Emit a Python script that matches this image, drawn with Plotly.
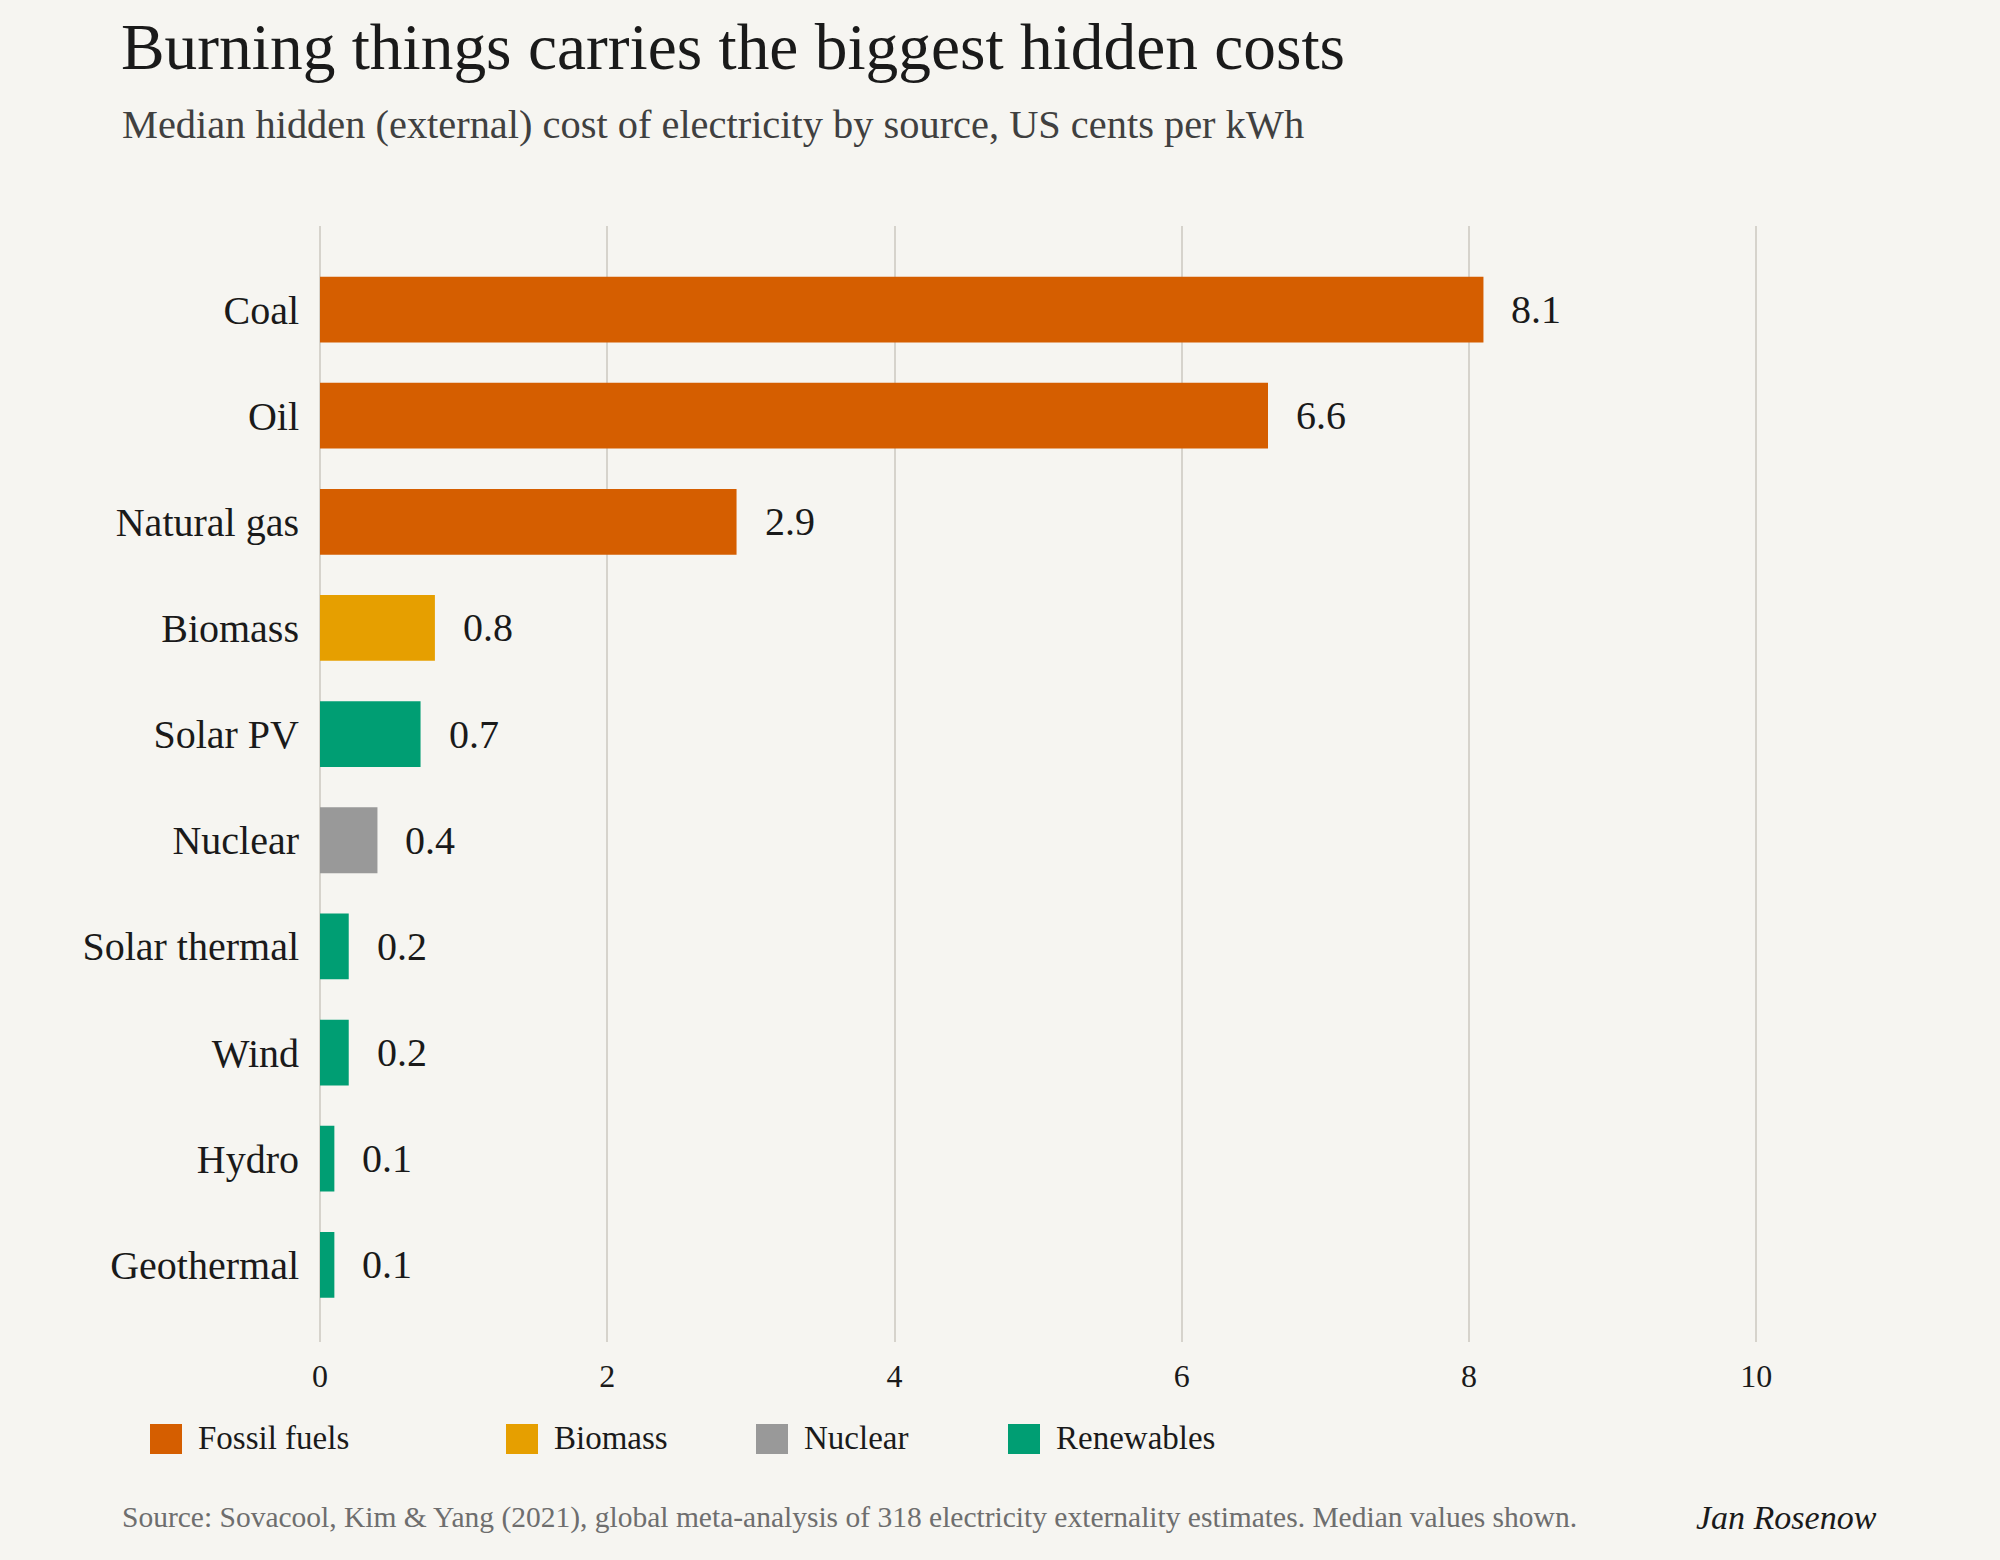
import plotly.graph_objects as go

# ---- data ----
sources = ["Coal", "Oil", "Natural gas", "Biomass", "Solar PV", "Nuclear",
           "Solar thermal", "Wind", "Hydro", "Geothermal"]
cost_cents = [8.1, 6.6, 2.9, 0.8, 0.7, 0.4, 0.2, 0.2, 0.1, 0.1]
source_group = ["Fossil fuels", "Fossil fuels", "Fossil fuels", "Biomass", "Renewables",
                "Nuclear", "Renewables", "Renewables", "Renewables", "Renewables"]
groups = ["Fossil fuels", "Biomass", "Nuclear", "Renewables"]
x_ticks = [0, 2, 4, 6, 8, 10]

# ---- style ----
group_colors = {"Fossil fuels": "#D55E00", "Biomass": "#E69F00",
                "Nuclear": "#999999", "Renewables": "#009E73"}
bg = "#F6F5F1"
grid = "#D6D3CC"
font = "Liberation Serif"
W, H = 2000, 1560
L, R, T, B = 320, 100, 226, 218
pw, ph = W - L - R, H - T - B


def px(x):
    return (x - L) / pw


def py(y):
    return (H - B - y) / ph


fig = go.Figure()
fig.add_trace(go.Bar(
    x=cost_cents, y=sources, orientation="h",
    marker=dict(color=[group_colors[g] for g in source_group], line=dict(width=0)),
    width=0.62, showlegend=False, hoverinfo="x+y",
))

# value labels
for s, v in zip(sources, cost_cents):
    fig.add_annotation(x=v, y=s, text=f"{v:.1f}", showarrow=False, xanchor="left",
                       xshift=26, font=dict(family=font, size=40, color="#1a1a1a"))

# legend (drawn by hand to get the large square keys)
legend_x = [150, 506, 756, 1008]
for g, lx in zip(groups, legend_x):
    fig.add_shape(type="rect", xref="paper", yref="paper",
                  x0=px(lx), x1=px(lx + 32), y0=py(1454), y1=py(1424),
                  fillcolor=group_colors[g], line=dict(width=0))
    fig.add_annotation(xref="paper", yref="paper", x=px(lx + 46), y=py(1438),
                       text=g, showarrow=False, xanchor="left", yanchor="middle",
                       font=dict(family=font, size=33, color="#1a1a1a"))

# title, subtitle, caption
fig.add_annotation(xref="paper", yref="paper", x=px(119), y=py(47), xanchor="left",
                   yanchor="middle", showarrow=False,
                   text="Burning things carries the biggest hidden costs",
                   font=dict(family=font, size=65.4, color="#1a1a1a"))
fig.add_annotation(xref="paper", yref="paper", x=px(120), y=py(124), xanchor="left",
                   yanchor="middle", showarrow=False,
                   text="Median hidden (external) cost of electricity by source, US cents per kWh",
                   font=dict(family=font, size=40.4, color="#404040"))
fig.add_annotation(xref="paper", yref="paper", x=px(120), y=py(1517), xanchor="left",
                   yanchor="middle", showarrow=False,
                   text="Source: Sovacool, Kim &amp; Yang (2021), global meta-analysis of 318 "
                        "electricity externality estimates. Median values shown.",
                   font=dict(family=font, size=29.5, color="#6e6e6e"))
fig.add_annotation(xref="paper", yref="paper", x=px(1879), y=py(1517), xanchor="right",
                   yanchor="middle", showarrow=False, text="<i>Jan Rosenow</i>",
                   font=dict(family=font, size=34, color="#1a1a1a"))

fig.update_layout(
    width=W, height=H,
    margin=dict(l=L, r=R, t=T, b=B, autoexpand=False),
    paper_bgcolor=bg, plot_bgcolor=bg,
    font=dict(family=font, color="#1a1a1a"),
    xaxis=dict(range=[0, 11], tickvals=x_ticks, showgrid=True, gridcolor=grid,
               gridwidth=2, zeroline=True, zerolinecolor=grid, zerolinewidth=2,
               showline=False, ticks="", ticklabelstandoff=12,
               tickfont=dict(family=font, size=32, color="#1a1a1a"), fixedrange=True),
    yaxis=dict(type="category", categoryorder="array", categoryarray=sources,
               range=[9.727, -0.787], showgrid=False, zeroline=False, showline=False,
               ticks="", ticklabelstandoff=20,
               tickfont=dict(family=font, size=40, color="#1a1a1a"), fixedrange=True),
)

# page body margin would push the figure off the window edge
fig.write_html("out.html", config={"displayModeBar": False},
               post_script="document.body.style.margin='0';")
